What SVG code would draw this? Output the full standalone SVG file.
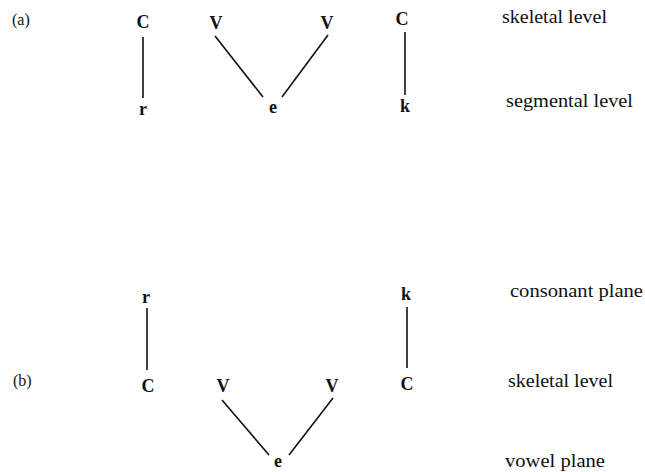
<svg xmlns="http://www.w3.org/2000/svg" width="645" height="472" viewBox="0 0 645 472">
<style>
.seg{font-family:"Liberation Serif",serif;font-weight:bold;font-size:18px;fill:#111;text-anchor:middle}
.lab{font-family:"Liberation Serif",serif;font-size:19px;fill:#111}
.tag{font-family:"Liberation Serif",serif;font-size:16px;fill:#111}
.ln{stroke:#111;stroke-width:1.6;fill:none}
</style>
<rect width="645" height="472" fill="#fff"/>
<text class="tag" x="12" y="25">(a)</text>
<g id="a-C1"><text class="seg" x="143" y="28">C</text></g>
<g id="a-V1"><text class="seg" x="216" y="29">V</text></g>
<g id="a-V2"><text class="seg" x="327" y="29">V</text></g>
<g id="a-C2"><text class="seg" x="402" y="25">C</text></g>
<g id="a-r"><text class="seg" x="143" y="115">r</text></g>
<g id="a-e"><text class="seg" x="273" y="113">e</text></g>
<g id="a-k"><text class="seg" x="405" y="112">k</text></g>
<g id="a-lab1"><text class="lab" x="502" y="23" textLength="105" lengthAdjust="spacingAndGlyphs">skeletal level</text></g>
<g id="a-lab2"><text class="lab" x="506" y="107" textLength="127" lengthAdjust="spacingAndGlyphs">segmental level</text></g>
<text class="tag" x="13" y="386">(b)</text>
<g id="b-r"><text class="seg" x="146" y="303">r</text></g>
<g id="b-k"><text class="seg" x="406" y="300">k</text></g>
<g id="b-C1"><text class="seg" x="148" y="392">C</text></g>
<g id="b-V1"><text class="seg" x="223" y="392">V</text></g>
<g id="b-V2"><text class="seg" x="332" y="392">V</text></g>
<g id="b-C2"><text class="seg" x="407" y="390">C</text></g>
<g id="b-e"><text class="seg" x="278" y="467">e</text></g>
<g id="b-lab1"><text class="lab" x="510" y="297" textLength="133" lengthAdjust="spacingAndGlyphs">consonant plane</text></g>
<g id="b-lab2"><text class="lab" x="508" y="387" textLength="105" lengthAdjust="spacingAndGlyphs">skeletal level</text></g>
<g id="b-lab3"><text class="lab" x="505" y="467" textLength="100" lengthAdjust="spacingAndGlyphs">vowel plane</text></g>
<g id="connectors">
<line class="ln" x1="143" y1="37" x2="143" y2="98"/>
<line class="ln" x1="215" y1="36" x2="263" y2="97"/>
<line class="ln" x1="328" y1="35" x2="282" y2="97"/>
<line class="ln" x1="405" y1="32" x2="405" y2="95"/>
<line class="ln" x1="147" y1="308" x2="147" y2="370"/>
<line class="ln" x1="407" y1="307" x2="407" y2="368"/>
<line class="ln" x1="222" y1="400" x2="269" y2="455"/>
<line class="ln" x1="333" y1="398" x2="289" y2="455"/>
</g>
</svg>
